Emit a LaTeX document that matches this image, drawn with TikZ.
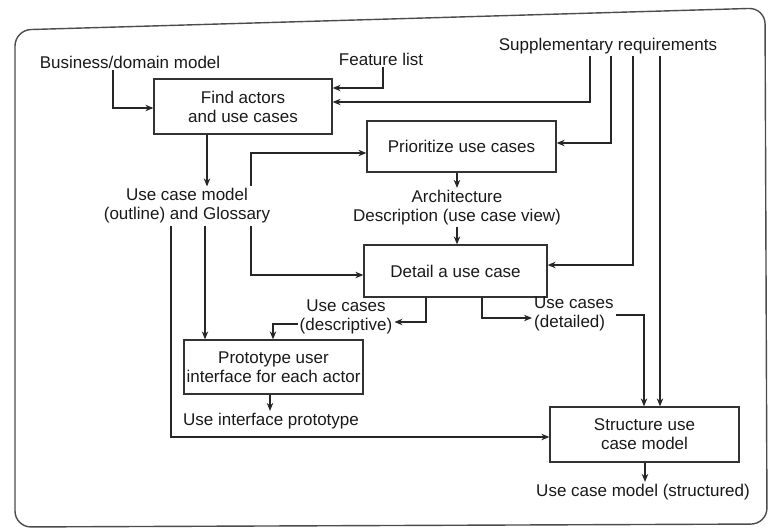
\documentclass[tikz,border=0pt]{standalone}
\usepackage{fontspec}
\setmainfont{Liberation Sans}
\usetikzlibrary{arrows.meta}
\begin{document}
\begin{tikzpicture}[x=1pt,y=-1pt,
  every node/.style={font=\fontsize{17}{19}\selectfont, text=black!90},
  box/.style={draw=black!80, line width=1.3pt, align=center, inner sep=2pt},
  lbl/.style={align=center, inner sep=2pt},
  arr/.style={draw=black!85, line width=1.1pt, -{Stealth[length=8pt,width=6.5pt]}},
  frame/.style={draw=black!70, line width=1.4pt, rounded corners=16pt}]
\useasboundingbox (0,0) rectangle (770,529);
% outer frame
\draw[frame] (15,30) -- (765,8) -- (767,524) -- (15,527) -- cycle;

% activities
\node[box, minimum width=178pt, minimum height=55pt] (find) at (243,106.5) {Find actors\\and use cases};
\node[box, minimum width=189pt, minimum height=51pt] (prio) at (461.5,146.5) {Prioritize use cases};
\node[box, minimum width=183pt, minimum height=52pt] (detail) at (455.5,271) {Detail a use case};
\node[box, minimum width=179pt, minimum height=54pt] (proto) at (273.5,367) {Prototype user\\interface for each actor};
\node[box, minimum width=189pt, minimum height=55pt] (struct) at (644.5,434.5) {Structure use\\case model};

% artifacts
\node[lbl] (bdm) at (130,62) {Business/domain model};
\node[lbl] (feat) at (381,59) {Feature list};
\node[lbl] (supp) at (608,46) {Supplementary requirements};
\node[lbl] (ucm) at (187,206) {Use case model\\(outline) and Glossary};
\node[lbl] (arch) at (457,207.5) {Architecture\\Description (use case view)};
\node[lbl] (ucdesc) at (346,317) {Use cases\\(descriptive)};
\node[lbl, align=left, anchor=west] (ucdet) at (532,314) {Use cases\\(detailed)};
\node[lbl] (uip) at (271,421) {Use interface prototype};
\node[lbl] (ucms) at (643,492) {Use case model (structured)};

% flows
\draw[arr] (bdm.south -| 113,0) |- (find.west |- 0,108);
\draw[arr] (feat.south -| 383,0) |- (find.east |- 0,88);
\draw[arr] (supp.south -| 590,0) |- (find.east |- 0,102);
\draw[arr] (supp.south -| 611,0) |- (prio.east |- 0,143);
\draw[arr] (supp.south -| 633,0) |- (detail.east |- 0,265);
\draw[arr] (supp.south -| 660,0) -- (struct.north -| 660,0);
\draw[arr] (find.south -| 207,0) -- (ucm.north -| 207,0);
\draw[arr] (ucm.north -| 251,0) |- (prio.west |- 0,153);
\draw[arr] (ucm.south -| 251,0) |- (detail.west |- 0,275);
\draw[arr] (ucm.south -| 205,0) -- (proto.north -| 205,0);
\draw[arr] (ucm.south -| 171,0) |- (struct.west |- 0,437);
\draw[arr] (prio.south -| 457,0) -- (arch.north -| 457,0);
\draw[arr] (arch.south -| 457,0) -- (detail.north -| 457,0);
\draw[arr] (detail.south -| 426,0) |- (ucdesc.east |- 0,322);
\draw[arr] (ucdesc.west |- 0,324) -| (proto.north -| 273,0);
\draw[arr] (detail.south -| 482,0) |- (ucdet.west |- 0,318);
\draw[arr] (ucdet.east |- 0,315) -| (struct.north -| 644,0);
\draw[arr] (proto.south -| 270,0) -- (uip.north -| 270,0);
\draw[arr] (struct.south -| 645,0) -- (ucms.north -| 645,0);
\end{tikzpicture}
\end{document}
